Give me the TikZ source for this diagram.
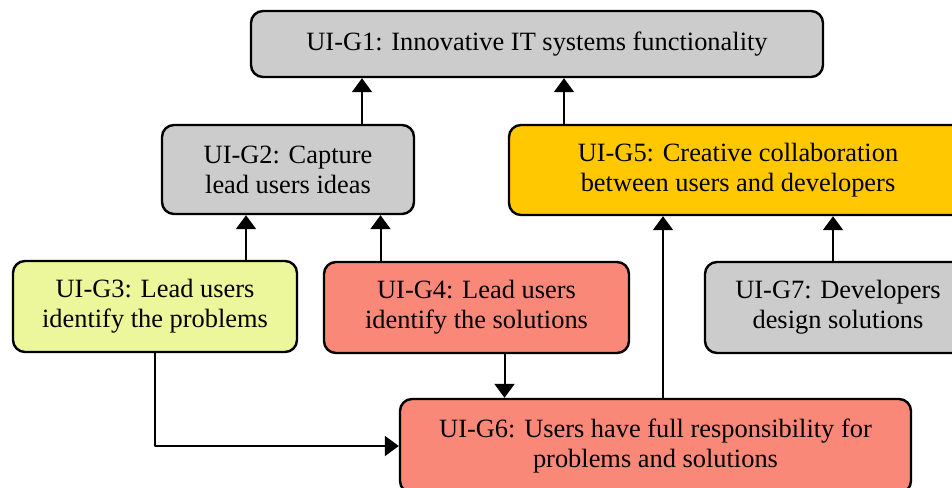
\documentclass[tikz,border=0pt]{standalone}
\usepackage{fontspec}
\setmainfont{Liberation Serif}
\usetikzlibrary{arrows.meta}
\definecolor{goalgray}{RGB}{204,204,204}
\definecolor{goallime}{RGB}{236,246,155}
\definecolor{goalsalmon}{RGB}{250,136,120}
\definecolor{goalgold}{RGB}{255,200,0}

\begin{document}
\begin{tikzpicture}[x=0.5pt,y=-0.5pt,line cap=round,line join=round,
  goal/.style={draw=black,line width=1.2pt,rounded corners=6pt,align=center,
    inner sep=2pt,font=\fontsize{13.2}{15}\selectfont},
  arr/.style={-{Triangle[length=7pt,width=10pt]},line width=1pt}]
\useasboundingbox (0,0) rectangle (952,487);
% goals
\node[goal,fill=goalgray,minimum width=286pt,minimum height=33pt] (g1) at (537,44) {UI-G1: Innovative IT systems functionality};
\node[goal,fill=goalgray,minimum width=126pt,minimum height=44.5pt] (g2) at (288,169.5) {UI-G2: Capture\\lead users ideas};
\node[goal,fill=goalgold,minimum width=229pt,minimum height=45pt] (g5) at (738,170) {UI-G5: Creative collaboration\\between users and developers};
\node[goal,fill=goallime,minimum width=142pt,minimum height=45.5pt] (g3) at (155,306.5) {UI-G3: Lead users\\identify the problems};
\node[goal,fill=goalsalmon,minimum width=152.5pt,minimum height=45.5pt] (g4) at (476.5,307.5) {UI-G4: Lead users\\identify the solutions};
\node[goal,fill=goalgray,minimum width=133pt,minimum height=45.5pt] (g7) at (838,307.5) {UI-G7: Developers\\design solutions};
\node[goal,fill=goalsalmon,minimum width=255.5pt,minimum height=47pt] (g6) at (655.5,446) {UI-G6: Users have full responsibility for\\problems and solutions};
% links
\draw[arr] ([xshift=37pt]g2.north) -- ([xshift=37pt]g2.north |- g1.south);
\draw[arr] ([xshift=-87pt]g5.north) -- ([xshift=-87pt]g5.north |- g1.south);
\draw[arr] ([xshift=45.5pt]g3.north) -- ([xshift=45.5pt]g3.north |- g2.south);
\draw[arr] ([xshift=-48pt]g4.north) -- ([xshift=-48pt]g4.north |- g2.south);
\draw[arr] ([xshift=-2.5pt]g7.north) -- ([xshift=-2.5pt]g7.north |- g5.south);
\draw[arr] ([xshift=3.75pt]g6.north) -- ([xshift=3.75pt]g6.north |- g5.south);
\draw[arr] ([xshift=14pt]g4.south) -- ([xshift=14pt]g4.south |- g6.north);
\draw[arr] (g3.south) |- (g6.west);
\end{tikzpicture}
\end{document}
